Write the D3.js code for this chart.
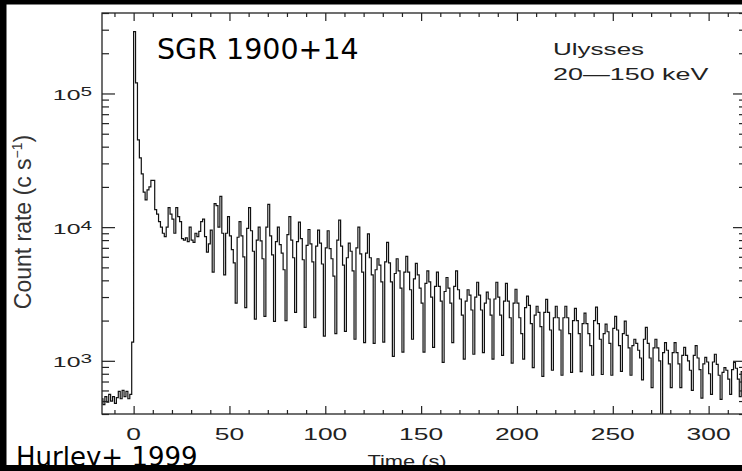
<!DOCTYPE html>
<html>
<head>
<meta charset="utf-8">
<script src="https://cdn.jsdelivr.net/npm/d3@7/dist/d3.min.js"></script>
<style>
  body { margin: 0; background: #fff; }
  svg { display: block; }
</style>
</head>
<body>
<svg id="chart" width="742" height="471"></svg>
<script>
// Ulysses 20-150 keV light curve, SGR 1900+14 giant flare (Hurley+ 1999)
// 1 s bins
const binStart = -17;
const binWidth = 1;

const preburst = [520, 470, 540, 490, 560, 500, 540, 480, 530, 590, 520, 600, 540, 590, 520, 560];
const onset = [1380];
const decay = [
  290000, 120000, 45000, 33000, 25000, 18300, 16000, 19000, 20000, 22400,
  22400, 13500, 12500, 11000, 10000, 9000, 8500, 10000, 14000, 12500,
  11500, 9000, 14000, 12000, 11000, 8200, 8000, 8300, 7800, 10000,
  8000, 7700, 9000, 8500, 9300, 11000, 11500, 8500, 6500, 7500,
  9500, 4600, 15000, 14500, 10000, 17000, 9000
];
// one row per 5.16 s pulse cycle: dip, rise, peak, plateau, shoulder(s)
const pulses = [
  [4400, 9000, 12000, 8600, 6800, 5400],
  [2700, 8400, 11000, 8600, 6000],
  [2500, 9800, 14000, 9400, 6600],
  [2050, 8000, 10000, 7900, 5800],
  [2150, 10000, 14800, 8600, 6200],
  [1970, 7800, 10000, 7400, 6400, 4800],
  [2000, 8800, 12000, 8000, 5900],
  [2300, 7800, 10900, 8200, 5700],
  [1780, 7300, 9600, 7500, 5500],
  [2100, 7200, 9500, 7600, 5300],
  [1530, 7000, 9400, 6900, 5800, 4300],
  [1600, 8000, 11300, 7200, 5200],
  [1660, 5900, 7600, 6600, 4700],
  [1450, 7000, 10000, 6300, 4600],
  [1370, 6400, 8900, 5900, 4400],
  [1350, 4800, 5800, 5200, 3900],
  [1380, 5500, 7700, 5400, 3900],
  [1080, 4500, 5800, 4700, 3500],
  [1160, 4600, 6050, 4600, 3400],
  [1450, 4100, 5360, 4400, 3500, 2700],
  [1160, 3800, 4700, 3900, 3000],
  [1260, 3600, 4600, 3600, 2800],
  [975, 3300, 4200, 3500, 2700],
  [1370, 3600, 4700, 3400, 2900, 2200],
  [1030, 2800, 3400, 3100, 2400],
  [1120, 3000, 3870, 3100, 2400],
  [1150, 2700, 3260, 2900, 2200],
  [1030, 2900, 3870, 3000, 2200],
  [1100, 2800, 3800, 2800, 2100],
  [960, 2700, 3430, 2700, 2100, 1600],
  [1030, 2500, 3050, 2600, 1900],
  [890, 2200, 2560, 2300, 1800],
  [765, 2300, 2880, 2300, 1700],
  [850, 2100, 2560, 2100, 1700],
  [780, 2100, 2560, 2100, 1600],
  [820, 2000, 2470, 2000, 1600],
  [830, 1900, 2270, 1900, 1600, 1300],
  [780, 2000, 2520, 1900, 1450],
  [790, 1600, 1880, 1650, 1350],
  [780, 1750, 2150, 1700, 1300],
  [835, 1600, 1980, 1550, 1250],
  [780, 1300, 1450, 1350, 1200, 1050],
  [720, 1450, 1780, 1350, 1050],
  [630, 1250, 1450, 1250, 1000],
  [360, 1150, 1370, 1200, 950],
  [630, 1150, 1370, 1150, 950],
  [630, 1100, 1260, 1100, 1000, 850],
  [600, 1100, 1300, 1050, 860],
  [525, 950, 1060, 980, 800],
  [560, 980, 1120, 940, 780],
  [515, 820, 890, 850, 730],
  [560, 860, 975, 880, 730],
  [540, 830, 950, 850]
];

const xDomain = [-16.5, 319.5];
const yDomain = [400, 4e5];
const xMajor = [0, 50, 100, 150, 200, 250, 300];
const xMinor = d3.range(-10, 320, 10);
const yMajor = [1e3, 1e4, 1e5];

const rates = preburst.concat(onset, decay, pulses.flat());
const bins = rates.map((r, i) => [binStart + i * binWidth, r]);
bins.push([binStart + rates.length * binWidth, rates[rates.length - 1]]);

const ink = '#222';
const idlFont = '"Liberation Sans", Arial, sans-serif';
const stretch = 1.6; // plot fonts are drawn wide

const svg = d3.select('#chart');
svg.append('rect').attr('width', 742).attr('height', 471).attr('fill', '#fff');

const plot = { left: 102, top: 13, right: 746, bottom: 414 };
const x = d3.scaleLinear().domain(xDomain).range([plot.left, plot.right]);
const y = d3.scaleLog().domain(yDomain).range([plot.bottom, plot.top]);

svg.append('clipPath').attr('id', 'clip')
  .append('rect')
  .attr('x', plot.left).attr('y', plot.top)
  .attr('width', plot.right - plot.left).attr('height', plot.bottom - plot.top);

// light curve
const line = d3.line()
  .x(d => x(d[0]))
  .y(d => y(Math.max(d[1], 300)))
  .curve(d3.curveStepAfter);

svg.append('path')
  .datum(bins)
  .attr('clip-path', 'url(#clip)')
  .attr('d', line)
  .attr('fill', 'none')
  .attr('stroke', '#111')
  .attr('stroke-width', 1.2);

// frame
svg.append('rect')
  .attr('x', plot.left).attr('y', plot.top)
  .attr('width', plot.right - plot.left).attr('height', plot.bottom - plot.top)
  .attr('fill', 'none').attr('stroke', ink).attr('stroke-width', 1.3);

// ticks, all pointing inward
function ticks(axisFn, scale, values, size, transform) {
  svg.append('g')
    .attr('transform', transform)
    .call(axisFn(scale).tickValues(values).tickSize(size).tickSizeOuter(0).tickFormat(''))
    .call(g => g.select('.domain').remove())
    .selectAll('line').attr('stroke', ink).attr('stroke-width', 1.2);
}

const yMinor = y.ticks().filter(v => !yMajor.includes(v));
ticks(d3.axisBottom, x, xMajor, -8, `translate(0,${plot.bottom})`);
ticks(d3.axisBottom, x, xMinor.filter(v => !xMajor.includes(v)), -4, `translate(0,${plot.bottom})`);
ticks(d3.axisTop, x, xMajor, -8, `translate(0,${plot.top})`);
ticks(d3.axisTop, x, xMinor.filter(v => !xMajor.includes(v)), -4, `translate(0,${plot.top})`);
ticks(d3.axisLeft, y, yMajor, -13, `translate(${plot.left},0)`);
ticks(d3.axisLeft, y, yMinor, -7, `translate(${plot.left},0)`);
ticks(d3.axisRight, y, yMajor, -13, `translate(${plot.right},0)`);
ticks(d3.axisRight, y, yMinor, -7, `translate(${plot.right},0)`);

// x tick labels
xMajor.forEach(v => {
  svg.append('text')
    .attr('transform', `translate(${x(v)},440) scale(${stretch},1)`)
    .attr('text-anchor', 'middle')
    .attr('font-family', idlFont)
    .attr('font-size', 16.5)
    .attr('fill', ink)
    .text(v);
});

// y tick labels: 10^n
yMajor.forEach(v => {
  const t = svg.append('text')
    .attr('transform', `translate(92,${y(v) + 6.5}) scale(${stretch},1)`)
    .attr('text-anchor', 'end')
    .attr('font-family', idlFont)
    .attr('font-size', 15.5)
    .attr('fill', ink);
  t.append('tspan').text('10');
  t.append('tspan').attr('dy', -4).attr('font-size', 13).text(Math.round(Math.log10(v)));
});

// axis titles
const yl = svg.append('text')
  .attr('transform', 'translate(31,222) rotate(-90)')
  .attr('text-anchor', 'middle')
  .attr('font-family', idlFont)
  .attr('font-size', 23)
  .attr('fill', '#333');
yl.append('tspan').text('Count rate (c s');
yl.append('tspan').attr('dy', -9).attr('font-size', 14).text('−1');
yl.append('tspan').attr('dy', 9).text(')');

svg.append('text')
  .attr('transform', 'translate(407,467) scale(1.3,1)')
  .attr('text-anchor', 'middle')
  .attr('font-family', idlFont)
  .attr('font-size', 16.8)
  .attr('fill', ink)
  .text('Time (s)');

// instrument note
svg.append('text')
  .attr('transform', `translate(553,55) scale(1.55,1)`)
  .attr('font-family', idlFont)
  .attr('font-size', 16.8)
  .attr('fill', ink)
  .text('Ulysses');
svg.append('text')
  .attr('transform', `translate(553,80) scale(1.6,1)`)
  .attr('font-family', idlFont)
  .attr('font-size', 16.8)
  .attr('fill', ink)
  .text('20—150 keV');

// annotations added on the slide
svg.append('text')
  .attr('x', 157).attr('y', 59)
  .attr('font-family', '"DejaVu Sans", sans-serif')
  .attr('font-size', 28.5)
  .attr('fill', '#000')
  .text('SGR 1900+14');

svg.append('text')
  .attr('x', 16).attr('y', 466)
  .attr('font-family', '"DejaVu Sans", sans-serif')
  .attr('font-size', 26)
  .attr('fill', '#000')
  .text('Hurley+ 1999');

// black frame of the screenshot
svg.append('rect').attr('x', 0).attr('y', 0).attr('width', 742).attr('height', 4.5).attr('fill', '#000');
svg.append('rect').attr('x', 0).attr('y', 0).attr('width', 6.5).attr('height', 471).attr('fill', '#000');
svg.append('rect').attr('x', 0).attr('y', 465).attr('width', 742).attr('height', 6).attr('fill', '#000');
</script>
</body>
</html>
